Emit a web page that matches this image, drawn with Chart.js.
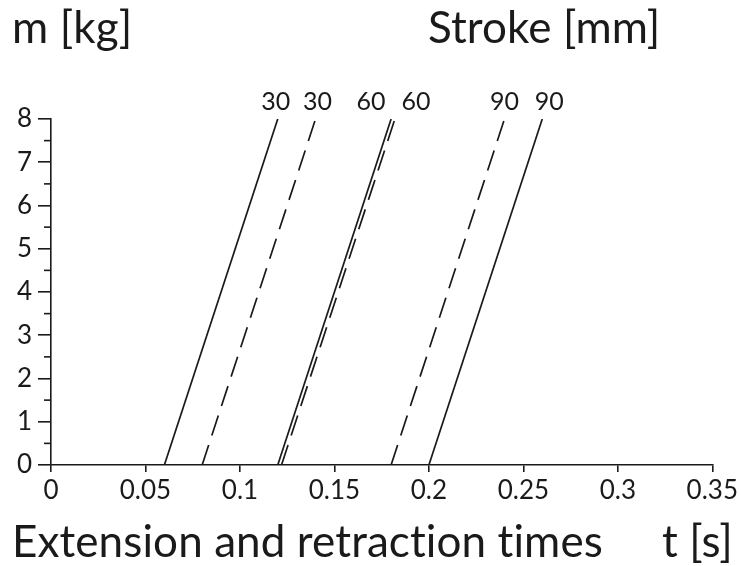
<!DOCTYPE html>
<html>
<head>
<meta charset="utf-8">
<script src="https://cdn.jsdelivr.net/npm/chart.js@4/dist/chart.umd.min.js"></script>
<style>
  html, body { margin: 0; padding: 0; background: #fff; }
  #wrap { position: relative; width: 741px; height: 566px; }
</style>
</head>
<body>
<div id="wrap"><canvas id="stroke-chart" width="741" height="566"></canvas></div>
<script>
// stroke lines: mass 0..8 kg against time in seconds
const strokes = ['30', '30', '60', '60', '90', '90'];
const tStart = [0.06, 0.08, 0.12, 0.122, 0.18, 0.20];
const tEnd = [0.12, 0.14, 0.18, 0.182, 0.24, 0.26];
const massRange = [0, 8];
const dashed = [false, true, false, true, true, false];
const xTicks = [0, 0.05, 0.1, 0.15, 0.2, 0.25, 0.3, 0.35];

const FONT = 'Lato, "Noto Sans", sans-serif';
const INK = '#1a1a1a';

// label nudges in pixels so the stroke numbers don't collide
const labelShift = [-2, 2, -20, 21, 0, 7];

const datasets = strokes.map((s, i) => ({
	label: s,
	data: [{ x: tStart[i], y: massRange[0] }, { x: tEnd[i], y: massRange[1] }],
	borderColor: INK,
	borderWidth: 1.7,
	borderDash: dashed[i] ? [21, 10] : [],
	pointRadius: 0,
	fill: false
}));

const decorations = {
	id: 'decorations',
	afterDraw(chart) {
		const { ctx, scales: { x, y } } = chart;
		ctx.save();
		ctx.strokeStyle = INK;
		ctx.lineWidth = 1.6;
		// minor ticks on the mass axis
		for (let v = 0.5; v < 8; v += 1) {
			const py = y.getPixelForValue(v);
			ctx.beginPath();
			ctx.moveTo(x.left - 7, py);
			ctx.lineTo(x.left, py);
			ctx.stroke();
		}
		// stroke numbers above each line
		ctx.fillStyle = INK;
		ctx.font = '25px ' + FONT;
		ctx.textAlign = 'center';
		ctx.textBaseline = 'alphabetic';
		strokes.forEach((s, i) => {
			ctx.fillText(s, x.getPixelForValue(tEnd[i]) + labelShift[i], y.getPixelForValue(massRange[1]) - 9);
		});
		// axis titles; tiny letter spacing stops Lato's "ti" ligature
		ctx.font = '44px ' + FONT;
		ctx.letterSpacing = '0.1px';
		ctx.textAlign = 'left';
		ctx.fillText('m [kg]', 12, 43);
		ctx.fillText('Stroke [mm]', 428, 43);
		ctx.fillText('Extension and retraction times', 12, 557);
		ctx.fillText('t [s]', 662, 557);
		ctx.restore();
	}
};

new Chart(document.getElementById('stroke-chart'), {
	type: 'scatter',
	data: { datasets },
	options: {
		responsive: false,
		animation: false,
		showLine: true,
		layout: { padding: { top: 119, left: 0, right: 28, bottom: 0 } },
		plugins: { legend: { display: false }, tooltip: { enabled: false } },
		scales: {
			x: {
				type: 'linear',
				min: 0,
				max: 0.35,
				afterBuildTicks: axis => { axis.ticks = xTicks.map(v => ({ value: v })); },
				afterFit: axis => { axis.height = 101; },
				ticks: {
					color: INK, font: { family: FONT, size: 26 }, padding: 3, maxRotation: 0, autoSkip: false,
					callback: v => String(+v.toFixed(2))
				},
				grid: { drawOnChartArea: false, tickLength: 7, color: INK, lineWidth: 1.6 },
				border: { color: INK, width: 1.6 }
			},
			y: {
				type: 'linear',
				min: 0,
				max: 8,
				afterFit: axis => { axis.width = 51; },
				ticks: { stepSize: 1, color: INK, font: { family: FONT, size: 26 }, padding: 6 },
				grid: { drawOnChartArea: false, tickLength: 13, color: INK, lineWidth: 1.6 },
				border: { color: INK, width: 1.6 }
			}
		}
	},
	plugins: [decorations]
});
</script>
</body>
</html>
